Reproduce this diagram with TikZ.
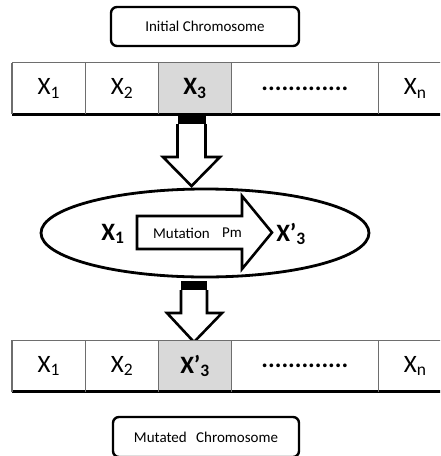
\documentclass[tikz,border=0pt]{standalone}
\usepackage{fontspec}
\setmainfont{Carlito}
\usetikzlibrary{shapes.geometric,positioning}
\definecolor{cellgray}{RGB}{217,217,217}
\definecolor{gridline}{RGB}{110,110,110}
\tikzset{
  cell/.style={minimum height=51pt, inner sep=0pt, anchor=west, font=\fontsize{25}{27}\selectfont},
  titlebox/.style={draw, rounded corners=6pt, line width=2.4pt, inner sep=0pt, font=\fontsize{15}{17}\selectfont},
  blockarrow/.style={draw, line width=2.6pt, fill=white, line join=miter},
  divider/.style={draw=gridline, line width=1.2pt},
}
\begin{document}
\begin{tikzpicture}[x=1pt,y=-1pt]
\useasboundingbox (0,0) rectangle (440,456);
\clip (0,0) rectangle (440,456);

\node[titlebox, minimum width=188pt, minimum height=39pt] (initial) at (205,26.5) {Initial Chromosome};

\node[cell, minimum width=73pt] (a1) at (12,88.5) {X\textsubscript{1}};
\node[cell, minimum width=73pt] (a2) at (a1.east) {X\textsubscript{2}};
\node[cell, minimum width=72pt, fill=cellgray] (a3) at (a2.east) {\textbf{X\textsubscript{3}}};
\node[cell, minimum width=147pt] (a4) at (a3.east) {\textbf{.............}};
\node[cell, minimum width=73pt] (a5) at (a4.east) {X\textsubscript{n}};
\draw[divider] (a1.north west) -- (a5.north east);
\draw[line width=2.6pt] (a1.south west) -- (a5.south east);
\draw[divider] (a1.north west) -- (a1.south west);
\draw[divider] (a1.north east) -- (a1.south east);
\draw[divider] (a2.north east) -- (a2.south east);
\draw[divider] (a3.north east) -- (a3.south east);
\draw[divider] (a4.north east) -- (a4.south east);

\fill (177.5,113) rectangle (205.5,124);
\draw[blockarrow] (177.5,124) -- (177.5,157) -- (163,157) -- (191.5,186) -- (220,157) -- (205.5,157) -- (205.5,124);

\node[ellipse, draw, line width=2.8pt, minimum width=328pt, minimum height=88pt] (mutation) at (205,233) {};
\draw[blockarrow] (137,216) -- (242,216) -- (242,196) -- (272,232.5) -- (242,269) -- (242,249) -- (137,249) -- cycle;
\node[font=\fontsize{15}{17}\selectfont] (mlabel) at (181.5,233) {Mutation};
\node[font=\fontsize{15}{17}\selectfont] (pm) at (232,233) {Pm};
\node[font=\fontsize{25}{27}\selectfont\bfseries] (gin) at (113,234) {X\textsubscript{1}};
\node[font=\fontsize{25}{27}\selectfont\bfseries] (gout) at (291,234) {X’\textsubscript{3}};

\fill (181,281) rectangle (207,290);
\draw[blockarrow] (181,290) -- (181,313) -- (167,313) -- (194,342) -- (222,313) -- (207,313) -- (207,290);

\node[cell, minimum width=73pt] (b1) at (12,366) {X\textsubscript{1}};
\node[cell, minimum width=73pt] (b2) at (b1.east) {X\textsubscript{2}};
\node[cell, minimum width=72pt, fill=cellgray] (b3) at (b2.east) {\textbf{X’\textsubscript{3}}};
\node[cell, minimum width=147pt] (b4) at (b3.east) {\textbf{.............}};
\node[cell, minimum width=73pt] (b5) at (b4.east) {X\textsubscript{n}};
\draw[divider] (b1.north west) -- (b5.north east);
\draw[line width=2.6pt] (b1.south west) -- (b5.south east);
\draw[divider] (b1.north west) -- (b1.south west);
\draw[divider] (b1.north east) -- (b1.south east);
\draw[divider] (b2.north east) -- (b2.south east);
\draw[divider] (b3.north east) -- (b3.south east);
\draw[divider] (b4.north east) -- (b4.south east);

\node[titlebox, minimum width=186pt, minimum height=40pt] (mutated) at (206,437) {Mutated\hspace{0.4em} Chromosome};
\end{tikzpicture}
\end{document}
